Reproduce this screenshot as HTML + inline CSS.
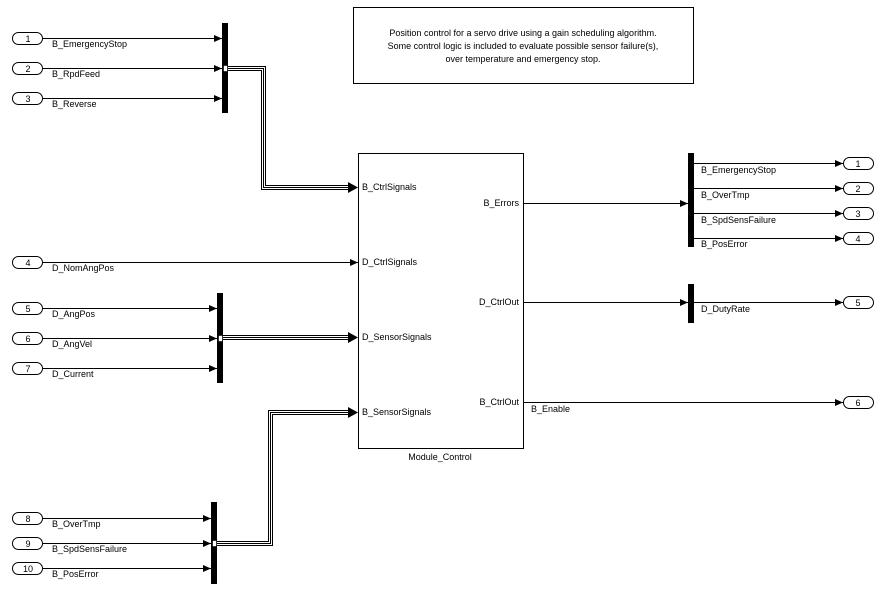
<!DOCTYPE html><html><head><style>body{margin:0;background:#fff}svg{display:block}text{font-family:"Liberation Sans",sans-serif;font-size:9px;fill:#000}</style></head><body>
<svg width="896" height="609" viewBox="0 0 896 609">
<defs><marker id="a" markerWidth="8" markerHeight="8" refX="8" refY="4" orient="auto" markerUnits="userSpaceOnUse"><path d="M0,0.5L8,4L0,7.5z" fill="#000"/></marker></defs>
<g fill="none" stroke="#000">
<rect x="353.5" y="7.5" width="340" height="76"/>
<rect x="358.5" y="153.5" width="165" height="295"/>
</g>
<text x="523" y="36" text-anchor="middle">Position control for a servo drive using a gain scheduling algorithm.</text>
<text x="523" y="49" text-anchor="middle">Some control logic is included to evaluate possible sensor failure(s),</text>
<text x="523" y="62" text-anchor="middle">over temperature and emergency stop.</text>
<text x="440" y="460" text-anchor="middle">Module_Control</text>
<!-- bars -->
<rect x="222" y="23" width="6" height="90"/>
<rect x="217" y="293" width="6" height="90"/>
<rect x="211" y="502" width="6" height="82"/>
<rect x="688" y="153" width="6" height="94"/>
<rect x="688" y="284" width="6" height="39"/>
<!-- inport ovals -->
<g fill="#fff" stroke="#000">
<rect x="12.5" y="32.5" width="30" height="12" rx="6"/>
<rect x="12.5" y="62.5" width="30" height="12" rx="6"/>
<rect x="12.5" y="92.5" width="30" height="12" rx="6"/>
<rect x="12.5" y="256.5" width="30" height="12" rx="6"/>
<rect x="12.5" y="302.5" width="30" height="12" rx="6"/>
<rect x="12.5" y="332.5" width="30" height="12" rx="6"/>
<rect x="12.5" y="362.5" width="30" height="12" rx="6"/>
<rect x="12.5" y="512.5" width="30" height="12" rx="6"/>
<rect x="12.5" y="537.5" width="30" height="12" rx="6"/>
<rect x="12.5" y="562.5" width="30" height="12" rx="6"/>
<rect x="843.5" y="157.5" width="30" height="12" rx="6"/>
<rect x="843.5" y="182.5" width="30" height="12" rx="6"/>
<rect x="843.5" y="207.5" width="30" height="12" rx="6"/>
<rect x="843.5" y="232.5" width="30" height="12" rx="6"/>
<rect x="843.5" y="296.5" width="30" height="12" rx="6"/>
<rect x="843.5" y="396.5" width="30" height="12" rx="6"/>
</g>
<g text-anchor="middle">
<text x="28" y="42">1</text><text x="28" y="72">2</text><text x="28" y="102">3</text><text x="28" y="266">4</text><text x="28" y="312">5</text><text x="28" y="342">6</text><text x="28" y="372">7</text><text x="28" y="522">8</text><text x="28" y="547">9</text><text x="28" y="572">10</text>
<text x="858" y="167">1</text><text x="858" y="192">2</text><text x="858" y="217">3</text><text x="858" y="242">4</text><text x="858" y="306">5</text><text x="858" y="406">6</text>
</g>
<!-- signal lines -->
<g stroke="#000" stroke-width="1" marker-end="url(#a)">
<line x1="43" y1="38.5" x2="222" y2="38.5"/>
<line x1="43" y1="68.5" x2="222" y2="68.5"/>
<line x1="43" y1="98.5" x2="222" y2="98.5"/>
<line x1="43" y1="262.5" x2="358" y2="262.5"/>
<line x1="43" y1="308.5" x2="217" y2="308.5"/>
<line x1="43" y1="338.5" x2="217" y2="338.5"/>
<line x1="43" y1="368.5" x2="217" y2="368.5"/>
<line x1="43" y1="518.5" x2="211" y2="518.5"/>
<line x1="43" y1="543.5" x2="211" y2="543.5"/>
<line x1="43" y1="568.5" x2="211" y2="568.5"/>
<line x1="523" y1="203.5" x2="688" y2="203.5"/>
<line x1="523" y1="302.5" x2="688" y2="302.5"/>
<line x1="523" y1="402.5" x2="843" y2="402.5"/>
<line x1="694" y1="163.5" x2="843" y2="163.5"/>
<line x1="694" y1="188.5" x2="843" y2="188.5"/>
<line x1="694" y1="213.5" x2="843" y2="213.5"/>
<line x1="694" y1="238.5" x2="843" y2="238.5"/>
<line x1="694" y1="302.5" x2="843" y2="302.5"/>
</g>
<!-- buses -->
<g fill="none">
<path d="M228,68.5H263.5V187.5H350" stroke="#000" stroke-width="5"/>
<path d="M228,68.5H263.5V187.5H350" stroke="#fff" stroke-width="3"/>
<path d="M228,68.5H263.5V187.5H350" stroke="#000" stroke-width="1"/>
<path d="M223,337.5H350" stroke="#000" stroke-width="5"/>
<path d="M223,337.5H350" stroke="#fff" stroke-width="3"/>
<path d="M223,337.5H350" stroke="#000" stroke-width="1"/>
<path d="M217,543.5H270.5V412.5H350" stroke="#000" stroke-width="5"/>
<path d="M217,543.5H270.5V412.5H350" stroke="#fff" stroke-width="3"/>
<path d="M217,543.5H270.5V412.5H350" stroke="#000" stroke-width="1"/>
</g>
<g fill="#000"><path d="M348,182L358,187.5L348,193z"/><path d="M348,332L358,337.5L348,343z"/><path d="M348,407L358,412.5L348,418z"/></g>
<g fill="#fff" stroke="#000" stroke-width="0.6"><rect x="223.5" y="65.5" width="4" height="6"/><rect x="218.5" y="335.5" width="4" height="6"/><rect x="212.5" y="540.5" width="4" height="6"/></g>
<!-- labels -->
<text x="52" y="47">B_EmergencyStop</text><text x="52" y="77">B_RpdFeed</text><text x="52" y="107">B_Reverse</text>
<text x="52" y="271">D_NomAngPos</text><text x="52" y="317">D_AngPos</text><text x="52" y="347">D_AngVel</text><text x="52" y="377">D_Current</text>
<text x="52" y="527">B_OverTmp</text><text x="52" y="552">B_SpdSensFailure</text><text x="52" y="577">B_PosError</text>
<text x="362" y="190">B_CtrlSignals</text><text x="362" y="265">D_CtrlSignals</text><text x="362" y="340">D_SensorSignals</text><text x="362" y="415">B_SensorSignals</text>
<text x="519" y="206" text-anchor="end">B_Errors</text><text x="519" y="305" text-anchor="end">D_CtrlOut</text><text x="519" y="405" text-anchor="end">B_CtrlOut</text>
<text x="531" y="412">B_Enable</text>
<text x="701" y="173">B_EmergencyStop</text><text x="701" y="198">B_OverTmp</text><text x="701" y="223">B_SpdSensFailure</text><text x="701" y="247">B_PosError</text>
<text x="701" y="312">D_DutyRate</text>
</svg></body></html>
